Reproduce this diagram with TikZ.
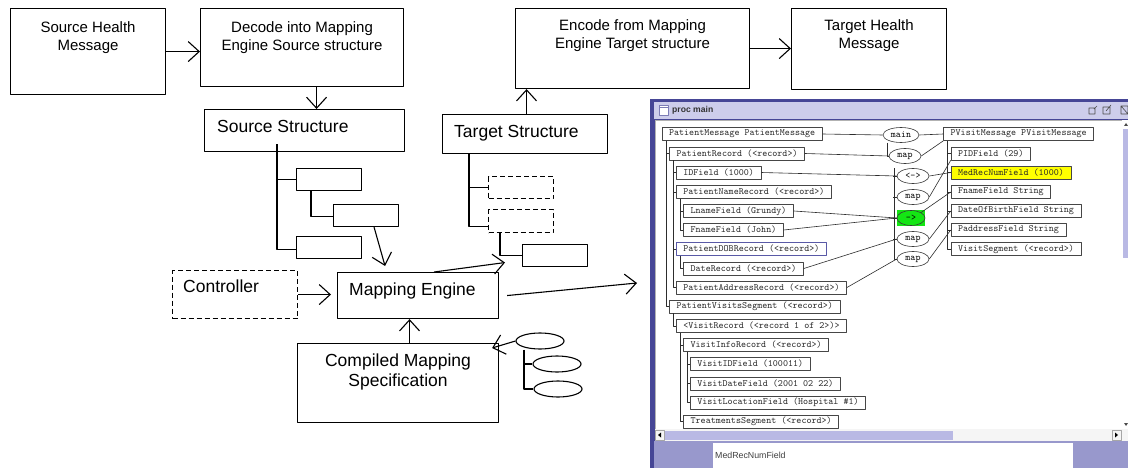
\documentclass[tikz,border=0pt]{standalone}
\usepackage{fontspec}
\setmainfont{Liberation Sans}
\usetikzlibrary{arrows.meta,shapes.geometric}
\definecolor{framedark}{RGB}{70,70,150}
\definecolor{barblue}{RGB}{205,205,235}
\definecolor{panelblue}{RGB}{152,152,204}
\definecolor{thumbblue}{RGB}{185,185,228}
\definecolor{selyellow}{RGB}{255,255,0}
\definecolor{opgreen}{RGB}{20,230,20}
\begin{document}
\begin{tikzpicture}[x=1pt,y=-1pt,line join=round,
  box/.style={draw,line width=1.1pt,anchor=north west,inner sep=0pt},
  dbox/.style={box,dash pattern=on 5pt off 3pt},
  leaf/.style={box,minimum width=65pt,minimum height=22pt},
  toptext/.style={anchor=north,inner sep=0pt,align=center,font=\fontsize{15}{18}\selectfont},
  lowtext/.style={anchor=north west,inner sep=0pt,font=\fontsize{17.5}{20}\selectfont},
  arr/.style={line width=1.1pt,-{Straight Barb[length=11pt,width=20pt]}},
  tree/.style={line width=1.1pt},
  fld/.style={draw=gray!55!black,line width=.7pt,anchor=west,inner xsep=7pt,inner ysep=0pt,minimum height=13pt,text=black!85,font=\ttfamily\fontsize{9.6}{10}\selectfont},
  op/.style={ellipse,draw=gray!45!black,line width=.6pt,inner sep=0pt,minimum width=32pt,minimum height=15pt,font=\ttfamily\fontsize{9.6}{10}\selectfont},
  wire/.style={gray!35!black,line width=.6pt}]
\useasboundingbox (0,0) rectangle (1128,468);

% top row
\node[box,minimum width=155pt,minimum height=86pt,
  label={[toptext,yshift=-13pt]north:Source Health\\Message}] (srcmsg) at (10,8) {};
\node[box,minimum width=203pt,minimum height=78pt,
  label={[toptext,yshift=-13pt]north:Decode into Mapping\\Engine Source structure}] (decode) at (200,8) {};
\node[box,minimum width=234pt,minimum height=80pt,
  label={[toptext,yshift=-11pt]north:Encode from Mapping\\Engine Target structure}] (encode) at (515,8) {};
\node[box,minimum width=155pt,minimum height=81pt,
  label={[toptext,yshift=-11pt]north:Target Health\\Message}] (tgtmsg) at (791,8) {};

% structures
\node[box,minimum width=200pt,minimum height=42pt,
  label={[lowtext,xshift=13pt,yshift=-11pt]north west:Source Structure}] (srcstruct) at (204,109) {};
\node[box,minimum width=165pt,minimum height=39pt,
  label={[lowtext,xshift=12pt,yshift=-11pt]north west:Target Structure}] (tgtstruct) at (442,114) {};
\node[leaf] (s1) at (296,168) {};
\node[leaf] (s2) at (333,204) {};
\node[leaf] (s3) at (296,236) {};
\node[leaf,dash pattern=on 5pt off 3pt] (t1) at (488,176) {};
\node[leaf,dash pattern=on 5pt off 3pt,minimum height=23pt] (t2) at (488,209) {};
\node[leaf] (t3) at (522,244) {};

% engine and its inputs
\node[dbox,minimum width=125pt,minimum height=48pt,
  label={[lowtext,xshift=11pt,yshift=-10pt]north west:Controller}] (ctrl) at (172,270) {};
\node[box,minimum width=161pt,minimum height=46pt,
  label={[lowtext,xshift=12pt,yshift=-10.5pt]north west:Mapping Engine}] (engine) at (337,272) {};
\node[box,minimum width=201pt,minimum height=79pt,
  label={[lowtext,anchor=north,align=center,yshift=-11pt]north:Compiled Mapping\\Specification}] (cms) at (297,343) {};
\node[ellipse,draw,line width=1.1pt,minimum width=48pt,minimum height=16pt] (e1) at (540,341) {};
\node[ellipse,draw,line width=1.1pt,minimum width=48pt,minimum height=16pt] (e2) at (557,364) {};
\node[ellipse,draw,line width=1.1pt,minimum width=48pt,minimum height=16pt] (e3) at (558,389) {};
\coordinate (shot) at (637,283);

\draw[arr] (srcmsg.east) -- (srcmsg.east -| decode.west);
\draw[arr] ([xshift=14.5pt]decode.south) -- ([xshift=12pt]srcstruct.north);
\draw[arr] ([xshift=1.5pt]tgtstruct.north) coordinate (tup) -- (tup |- encode.south);
\draw[arr] (encode.east) -- (encode.east -| tgtmsg.west);

\coordinate (sroot) at ([xshift=73pt,yshift=8pt]srcstruct.south west);
\draw[tree] (sroot) |- ([yshift=-2pt]s3.west);
\draw[tree] (sroot |- s1.west) -- (s1.west);
\draw[tree] ([xshift=15pt]s1.south west) |- ([yshift=-1pt]s2.west);
\coordinate (troot) at ([xshift=27pt]tgtstruct.south west);
\draw[tree] (troot) |- ([yshift=-5pt]t2.west);
\draw[tree] (troot |- t1.west) -- (t1.west);
\draw[tree] ([xshift=12pt]t2.south west) |- (t3.west);

\draw[arr] ([xshift=8pt]s2.south) -- ([xshift=-33pt,yshift=6pt]engine.north);
\draw[arr] ([xshift=16pt]engine.north) -- ([xshift=-17pt,yshift=-7pt]t3.west);
\draw[arr,shorten >=6pt] (ctrl.east) -- (engine.west |- ctrl.east);
\draw[arr] ([xshift=11.5pt]cms.north) coordinate (cup) -- (cup |- engine.south);
\draw[arr] ([xshift=8pt]engine.east) -- (shot);
\coordinate (eroot) at ([xshift=-16pt]e1.south);
\draw[tree] (eroot) |- (e3.west);
\draw[tree] (eroot |- e2.west) -- (e2.west);
\draw[arr] (e1.west) -- ([xshift=-7pt,yshift=-5pt]cms.north east);

% screenshot of the mapping tool
\fill[framedark] (650,99) rectangle (1128,468);
\fill[barblue] (654,102) rectangle (1128,119);
\draw[framedark!70,fill=white] (659,105) rectangle (668,115);
\draw[framedark!70] (659,107.5) -- (668,107.5);
\node[anchor=west,inner sep=0pt,text=black!80,font=\bfseries\fontsize{8.6}{10}\selectfont] (title) at (672,110) {proc main};
\draw[black!70,line width=.6pt] (1089,108) rectangle (1095,114) (1094,109) -- (1097,106);
\draw[black!70,line width=.6pt] (1103,107) rectangle (1110,114) (1106,111) -- (1111,105);
\draw[black!70,line width=.6pt] (1121,106) rectangle (1128,114) (1121,106) -- (1128,114);
\fill[white] (655,120) rectangle (1122,429);
\draw[gray!60] (655,120) rectangle (1122,429);
\fill[white] (1122,120) rectangle (1128,429);
\fill[thumbblue] (1123,129) rectangle (1128,258);
\fill[black!70] (1124,126) -- (1126,123) -- (1128,126) -- cycle;
\fill[black!70] (1124,423) -- (1126,426) -- (1128,423) -- cycle;
\fill[white!92!gray] (655,429) rectangle (1128,441);
\fill[thumbblue] (665,431) rectangle (953,440);
\draw[gray!70] (655,430) rectangle (664,440);
\fill[black] (661,432.5) -- (658,435) -- (661,437.5) -- cycle;
\draw[gray!70] (1112,430) rectangle (1121,440);
\fill[black] (1115,432.5) -- (1118,435) -- (1115,437.5) -- cycle;
\fill[panelblue] (654,441) rectangle (1128,468);
\fill[white] (713,443) rectangle (1073,468);
\node[anchor=west,inner sep=0pt,text=black!75,font=\fontsize{8.8}{10}\selectfont] (status) at (715,455) {MedRecNumField};

% source message tree
\node[fld] (n0) at (661.7,134) {PatientMessage PatientMessage};
\node[fld] (n1) at (669.3,153.5) {PatientRecord (<record>)};
\node[fld] (n2) at (676,172.5) {IDField (1000)};
\node[fld] (n3) at (676,192) {PatientNameRecord (<record>)};
\node[fld] (n4) at (683.3,211) {LnameField (Grundy)};
\node[fld] (n5) at (683.3,230) {FnameField (John)};
\node[fld,draw=blue!30!gray] (n6) at (676,249) {PatientDOBRecord (<record>)};
\node[fld] (n7) at (683.3,268.5) {DateRecord (<record>)};
\node[fld] (n8) at (676,287.5) {PatientAddressRecord (<record>)};
\node[fld] (n9) at (669.3,306.5) {PatientVisitsSegment (<record>)};
\node[fld] (n10) at (676,326) {<VisitRecord (<record 1 of 2>)>};
\node[fld] (n11) at (683.3,345) {VisitInfoRecord (<record>)};
\node[fld] (n12) at (690,364) {VisitIDField (100011)};
\node[fld] (n13) at (690,383.5) {VisitDateField (2001 02 22)};
\node[fld] (n14) at (690,402.5) {VisitLocationField (Hospital \#1)};
\node[fld] (n15) at (683.3,421.5) {TreatmentsSegment (<record>)};

% target message tree
\node[fld] (r0) at (943.3,134) {PVisitMessage PVisitMessage};
\node[fld] (r1) at (950.7,153.5) {PIDField (29)};
\node[fld,fill=selyellow] (r2) at (950.7,172.5) {MedRecNumField (1000)};
\node[fld] (r3) at (950.7,192) {FnameField String};
\node[fld] (r4) at (950.7,211) {DateOfBirthField String};
\node[fld] (r5) at (950.7,230) {PaddressField String};
\node[fld] (r6) at (950.7,249) {VisitSegment (<record>)};

% mapping operators
\node[op,minimum width=36pt] (mmain) at (901,135) {main};
\node[op] (mmap1) at (905,156) {map};
\node[op] (mswap) at (913,176) {<->};
\node[op] (mmap2) at (913,197) {map};
\node[fill=opgreen,minimum width=28pt,minimum height=16pt,inner sep=0pt] (greenbg) at (911,218) {};
\node[op,fill=opgreen,minimum width=28pt] (mgreen) at (greenbg) {->};
\node[op] (mmap3) at (913,239) {map};
\node[op] (mmap4) at (913,259) {map};

\draw[wire] (n1.west |- n0.south) ++(-3,0) |- (n9.west);
\draw[wire] (n2.west |- n1.south) ++(-3,0) |- (n8.west);
\draw[wire] (n4.west |- n3.south) ++(-3,0) |- (n5.west);
\draw[wire] (n7.west |- n6.south) ++(-3,0) |- (n7.west);
\draw[wire] (n10.west |- n9.south) ++(-3,0) |- (n10.west);
\draw[wire] (n11.west |- n10.south) ++(-3,0) |- (n15.west);
\draw[wire] (n12.west |- n11.south) ++(-3,0) |- (n14.west);
\draw[wire] (r1.west |- r0.south) ++(-3,0) |- (r6.west);
\foreach \n in {n1,n2,n3,n4,n6,n11,n12,n13,r1,r2,r3,r4,r5}
  \draw[wire] (\n.west) -- ++(-3,0);
\draw[wire] ([xshift=-14pt]mmain.south) |- (mmap1.west);
\draw[wire] ([xshift=-19pt]mswap.north) |- (mmap4.west);
\foreach \n in {mswap,mmap2,mgreen,mmap3}
  \draw[wire] (\n.west) -- ++(-4,0);

\draw[wire] (n0.east) -- (mmain.west);
\draw[wire] (mmain.east) -- (r0.west);
\draw[wire] (n1.east) -- (mmap1.west);
\draw[wire] (mmap1.east) -- (r0.south west);
\draw[wire] (n2.east) -- (mswap.west);
\draw[wire] (mswap.east) -- (r2.west);
\draw[wire] (mmap2.east) -- (r1.south west);
\draw[wire] (n4.east) -- (mgreen.west);
\draw[wire] (n5.east) -- (mgreen.west);
\draw[wire] (mgreen.north east) -- (r3.west);
\draw[wire] (n7.east) -- (mmap3.west);
\draw[wire] (mmap3.east) -- (r4.west);
\draw[wire] (n8.east) -- (mmap4.west);
\draw[wire] (mmap4.east) -- (r5.west);
\end{tikzpicture}
\end{document}
